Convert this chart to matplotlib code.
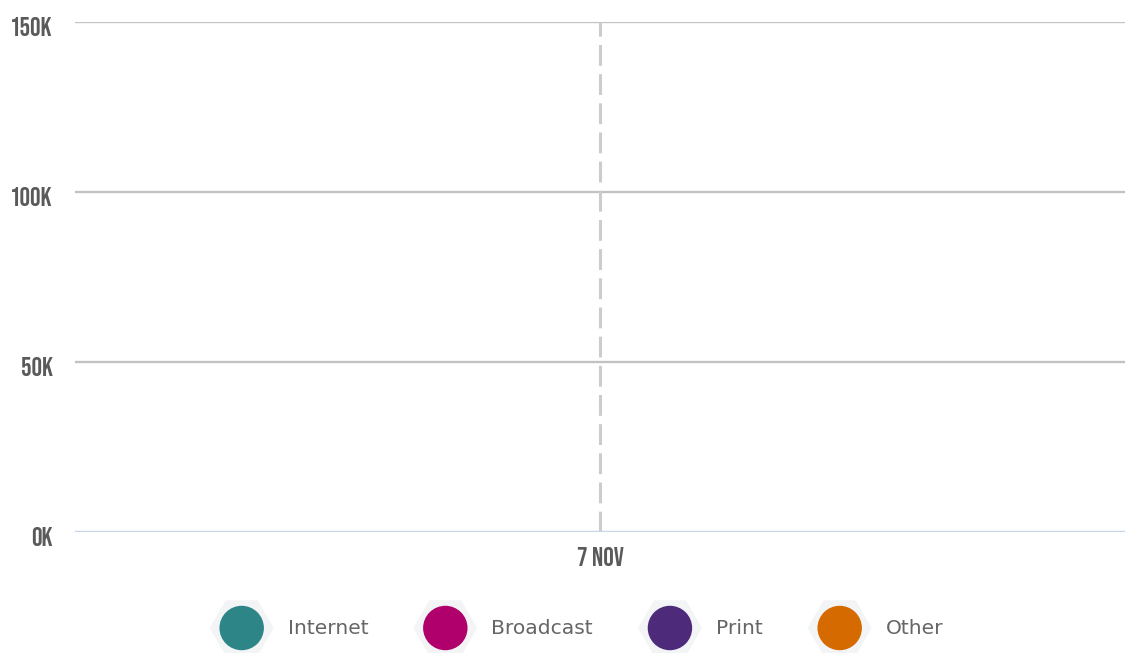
import matplotlib
matplotlib.use("Agg")
import matplotlib.pyplot as plt
from matplotlib.transforms import ScaledTranslation
from matplotlib import font_manager

# Data
dates = ["7 NOV"]
series_names = ["Internet", "Broadcast", "Print", "Other"]
series_colors = ["#2e8587", "#b0006b", "#4e2a7a", "#d46a00"]
internet = [0]
broadcast = [0]
print_media = [0]
other = [0]
y_ticks = [0, 50000, 100000, 150000]
y_tick_labels = ["0K", "50K", "100K", "150K"]

W, H = 1125, 653
available = {f.name for f in font_manager.fontManager.ttflist}
tick_font = [f for f in ["Bebas Neue", "Oswald", "Sofia Sans Extra Condensed",
                         "Fira Sans Extra Condensed", "DejaVu Sans"] if f in available]
legend_font = [f for f in ["Verdana", "DejaVu Sans"] if f in available]

plt.rcParams["lines.scale_dashes"] = False

fig = plt.figure(figsize=(W / 100, H / 100), dpi=100)
ax = fig.add_axes([75 / W, 1 - 532 / H, 1050 / W, 510 / H])

x = list(range(len(dates)))
for vals, c in zip([internet, broadcast, print_media, other], series_colors):
    ax.plot(x, vals, color=c, lw=2.5)

ax.set_xlim(-0.5, 0.5)
ax.set_ylim(0, 150000)

# horizontal grid lines, baseline in light blue
for t in y_ticks[1:]:
    ax.axhline(t, color="#c2c2c2", lw=1.7, zorder=0)
ax.axhline(0, color="#c6d6e6", lw=1.7, zorder=1)
# dashed vertical line at each date
for xi in x:
    ax.axvline(xi, color="#cccccc", lw=2.2, dashes=(15, 6), zorder=0)

for s in ax.spines.values():
    s.set_visible(False)
ax.set_yticks(y_ticks)
ax.set_yticklabels(y_tick_labels)
ax.set_xticks(x)
ax.set_xticklabels(dates)
ax.tick_params(length=0)
ax.tick_params(axis="y", pad=16)
ax.tick_params(axis="x", pad=11)
shift = ScaledTranslation(0, -5 / 100, fig.dpi_scale_trans)
for lab in ax.get_yticklabels():
    lab.set_transform(lab.get_transform() + shift)
for lab in ax.get_yticklabels() + ax.get_xticklabels():
    lab.set_fontfamily(tick_font)
    lab.set_fontweight("bold")
    lab.set_fontsize(19)
    lab.set_color("#5a5a5a")

# legend: hexagon badge with a coloured dot, followed by the series name
lax = fig.add_axes([0, 0, 1, 1], zorder=5)
lax.set_xlim(0, W)
lax.set_ylim(H, 0)
lax.axis("off")
ly = 628
text_off = 46
gap = 77
texts = [lax.text(0, ly, n, fontsize=14.6, family=legend_font, color="#666666",
                  va="center", ha="left") for n in series_names]
fig.canvas.draw()
r = fig.canvas.get_renderer()
widths = [t.get_window_extent(r).width for t in texts]
total = sum(text_off + w for w in widths) + gap * (len(widths) - 1) + 31
start = 577 - total / 2 + 31
cx = start
for t, w, c in zip(texts, widths, series_colors):
    lax.scatter([cx], [ly], marker="H", s=46 ** 2, color="#f3f4f6", edgecolors="none", zorder=1)
    lax.scatter([cx], [ly], marker="o", s=32 ** 2, color=c, edgecolors="none", zorder=2)
    t.set_x(cx + text_off)
    cx = cx + text_off + w + gap

fig.savefig("out.png", dpi=100)
